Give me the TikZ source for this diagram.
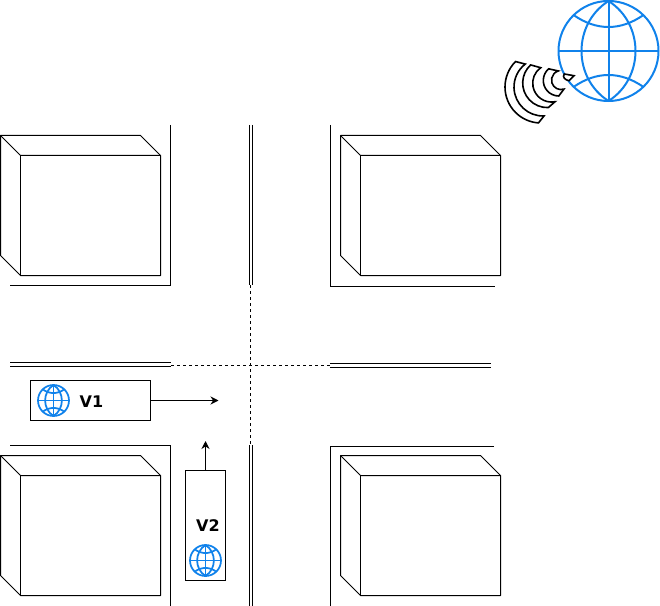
\documentclass[tikz,border=0pt]{standalone}
\usepackage{xcolor}
\usepackage{fontspec}
\setmainfont{DejaVu Sans}
\usetikzlibrary{arrows.meta, positioning}
\definecolor{GlobeBlue}{RGB}{16,130,235}

\tikzset{
  building/.pic={
    \draw[wall] (0,0) -- (140,0) -- (160,20) -- (160,140) -- (20,140) -- (0,120) -- cycle;
    \draw[wall] (0,0) -- (20,20) -- (160,20);
    \draw[wall] (20,20) -- (20,140);
  },
  globe/.pic={
    \draw[GlobeBlue] (0,0) circle[radius=50];
    \draw[GlobeBlue] (0,-50) -- (0,50);
    \draw[GlobeBlue] (-50,0) -- (50,0);
    \draw[GlobeBlue] (0,-50) .. controls (-36,-27) and (-36,27) .. (0,50);
    \draw[GlobeBlue] (0,-50) .. controls (36,-27) and (36,27) .. (0,50);
    \draw[GlobeBlue] (-35,-36) .. controls (-12,-20) and (12,-20) .. (35,-36);
    \draw[GlobeBlue] (-35,36) .. controls (-12,20) and (12,20) .. (35,36);
  },
}

\begin{document}
\begin{tikzpicture}[
  x=0.75pt, y=-0.75pt,
  wall/.style={line width=0.75pt, line join=round},
  road/.style={line width=0.75pt},
  lane/.style={line width=0.75pt, dash pattern=on 2.25pt off 2.25pt},
  car/.style={draw, line width=0.75pt, inner sep=0pt},
  lbl/.style={font=\fontsize{12}{14}\selectfont\bfseries, inner sep=0pt},
  arr/.style={-{Stealth[length=6pt, width=6pt]}, line width=0.75pt},
  wave/.style={line width=1.2pt, line join=miter, fill=white},
]
\useasboundingbox (0,0) rectangle (660,606);

% buildings
\pic at (0.5,135.5) {building};
\pic at (340.5,135.5) {building};
\pic at (0.5,455.5) {building};
\pic at (340.5,455.5) {building};

% kerbs
\draw[road] (170.5,125) -- (170.5,285.5) -- (10,285.5);
\draw[road] (330.5,125) -- (330.5,286) -- (495,286);
\draw[road] (10,445.5) -- (170.5,445.5) -- (170.5,606);
\draw[road] (494,446) -- (330.5,446) -- (330.5,606);

% centre lines
\draw[road] (249,125) -- (249,285);
\draw[road] (252,125) -- (252,285);
\draw[road] (249,445) -- (249,606);
\draw[road] (252,445) -- (252,606);
\draw[road] (10,362.5) -- (171,362.5);
\draw[road] (10,366.5) -- (171,366.5);
\draw[road] (330,363.5) -- (491,363.5);
\draw[road] (330,367.5) -- (491,367.5);
\draw[lane] (250.5,285) -- (250.5,445);
\draw[lane] (171,365.5) -- (330,365.5);

% vehicles
\node[car, minimum width=90pt, minimum height=30pt] (carV1) at (90.5,400.5) {};
\node[car, minimum width=30pt, minimum height=82.5pt] (carV2) at (205.5,525.5) {};
\coordinate (endV1) at (218.5,400.5);
\coordinate (endV2) at (205.5,441);
\draw[arr] (carV1.east) -- (endV1);
\draw[arr] (carV2.north) -- (endV2);
\node[lbl] (lblV1) at (91.5,401.7) {V1};
\node[lbl] (lblV2) at (208,525.6) {V2};
\pic[scale=0.31, line width=1.3pt] at (53.5,400.5) {globe};
\pic[scale=0.31, line width=1.3pt] at (205.5,560.5) {globe};

% antenna
\pic[line width=1.5pt] at (608.5,51) {globe};
\draw[wave] ([shift={(225:36)}]541,87) arc[start angle=225, end angle=94, radius=36]
  -- ([shift={(88:29)}]543,87) arc[start angle=88, end angle=232.3, radius=29] -- cycle;
\draw[wave] ([shift={(227.3:24.6)}]547.3,83) arc[start angle=227.3, end angle=87.7, radius=24.6]
  -- ([shift={(79.6:18.9)}]551.6,83.15) arc[start angle=79.6, end angle=234.8, radius=18.9] -- cycle;
\draw[wave] ([shift={(229:15.5)}]558.8,80.5) arc[start angle=229, end angle=90, radius=15.5]
  -- ([shift={(72:9.5)}]561,80.07) arc[start angle=72, end angle=253.4, radius=9.5] -- cycle;
\draw[wave] (574,75.7) -- (564.3,74) .. controls (562,77) and (565,80) .. (569,80.7) -- cycle;
\end{tikzpicture}
\end{document}
